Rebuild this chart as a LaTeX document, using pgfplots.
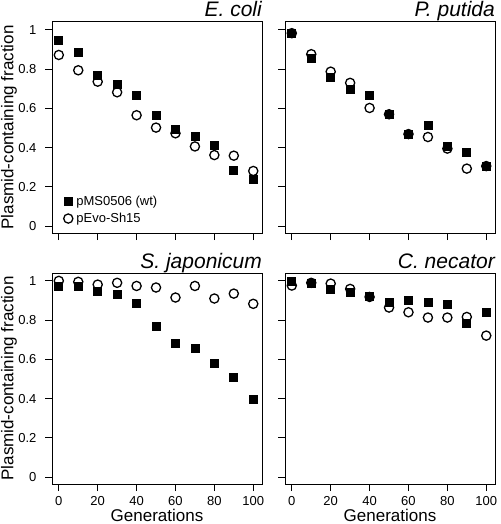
\documentclass[border=0pt]{standalone}
\usepackage{pgfplots}
\pgfplotsset{compat=1.18}
\usepackage{fontspec}
\setmainfont{Liberation Sans}

\pgfplotsset{
  panel/.style={
    scale only axis, width=210pt, height=211pt,
    xmin=-3.5, xmax=104.5, ymin=-0.035, ymax=1.04,
    xtick={0,20,40,60,80,100}, ytick={0,0.2,0.4,0.6,0.8,1},
    tick align=outside, tick pos=left, major tick length=7pt,
    axis line style={line width=1pt},
    tick style={line width=1pt, black},
    tick label style={font=\fontsize{13}{15}\selectfont},
    xticklabel style={yshift=-2pt},
    yticklabel style={xshift=-5pt},
    /pgf/number format/assume math mode=true,
    every axis title/.style={at={(1,1)}, anchor=base east, yshift=5pt, inner sep=0pt,
      font=\fontsize{21}{24}\selectfont\itshape},
    xlabel style={at={(0.5,-0.176)}, anchor=base, inner sep=0pt, font=\fontsize{17}{20}\selectfont},
    ylabel style={at={(-0.184,0.5)}, anchor=base, inner sep=0pt, rotate=0, font=\fontsize{17}{20}\selectfont},
  },
  sq/.style={only marks, mark=square*, mark size=4pt, mark options={fill=black, draw=black, line width=0.8pt}},
  ci/.style={only marks, mark=*, mark size=4.6pt, mark options={fill=white, draw=black, line width=1.3pt}},
}

\begin{document}
\begin{tikzpicture}
\useasboundingbox (0,0) rectangle (500pt,-524pt);

% E. coli
\begin{axis}[panel, at={(52pt,-22pt)}, anchor=north west,
  title={E. coli}, xticklabels={}, ylabel={Plasmid-containing fraction},
  legend style={draw=none, fill=none, at={(axis cs:2.4,0.172)}, anchor=north west,
    inner sep=0pt, row sep=0pt, column sep=0pt, font=\fontsize{13}{15}\selectfont,
    nodes={inner ysep=3.2pt, inner xsep=3.5pt}},
  legend cell align=left,
  legend image code/.code={\draw[#1] plot coordinates {(0pt,0pt)};}]
\addlegendimage{sq}
\addlegendentry{pMS0506 (wt)}
\addlegendimage{ci}
\addlegendentry{pEvo-Sh15}
\addplot[ci, forget plot] coordinates {(0,0.872)(10,0.794)(20,0.736)(30,0.682)(40,0.565)(50,0.502)(60,0.473)(70,0.406)(80,0.362)(90,0.359)(100,0.281)};
\addplot[sq, forget plot] coordinates {(0,0.944)(10,0.886)(20,0.767)(30,0.724)(40,0.668)(50,0.563)(60,0.493)(70,0.459)(80,0.413)(90,0.284)(100,0.240)};
\end{axis}

% P. putida
\begin{axis}[panel, at={(285pt,-22pt)}, anchor=north west,
  title={P. putida}, xticklabels={}, yticklabels={}]
\addplot[ci] coordinates {(0,0.983)(10,0.876)(20,0.787)(30,0.730)(40,0.602)(50,0.570)(60,0.469)(70,0.454)(80,0.395)(90,0.293)(100,0.306)};
\addplot[sq] coordinates {(0,0.983)(10,0.852)(20,0.757)(30,0.699)(40,0.667)(50,0.568)(60,0.468)(70,0.514)(80,0.405)(90,0.374)(100,0.306)};
\end{axis}

% S. japonicum
\begin{axis}[panel, at={(52pt,-273pt)}, anchor=north west,
  title={S. japonicum}, xlabel={Generations}, ylabel={Plasmid-containing fraction}]
\addplot[ci] coordinates {(0,1.0)(10,0.995)(20,0.981)(30,0.99)(40,0.974)(50,0.966)(60,0.915)(70,0.974)(80,0.910)(90,0.935)(100,0.883)};
\addplot[sq] coordinates {(0,0.973)(10,0.973)(20,0.944)(30,0.930)(40,0.883)(50,0.769)(60,0.679)(70,0.658)(80,0.578)(90,0.510)(100,0.395)};
\end{axis}

% C. necator
\begin{axis}[panel, at={(285pt,-273pt)}, anchor=north west,
  title={C. necator}, xlabel={Generations}, yticklabels={}]
\addplot[ci] coordinates {(0,0.976)(10,0.990)(20,0.986)(30,0.959)(40,0.918)(50,0.864)(60,0.840)(70,0.813)(80,0.813)(90,0.816)(100,0.721)};
\addplot[sq] coordinates {(0,0.997)(10,0.986)(20,0.956)(30,0.939)(40,0.920)(50,0.889)(60,0.898)(70,0.888)(80,0.878)(90,0.782)(100,0.838)};
\end{axis}
\end{tikzpicture}
\end{document}
